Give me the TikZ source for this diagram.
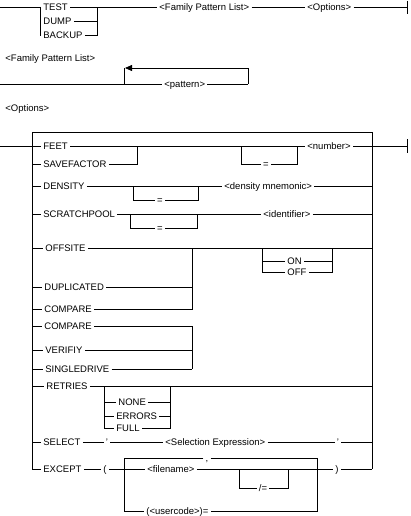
\documentclass[tikz,border=0pt]{standalone}
\usepackage{fontspec}
\setmainfont{Liberation Sans}
\usetikzlibrary{arrows.meta}
\begin{document}
\begin{tikzpicture}[x=1pt,y=-1pt,line width=0.8pt,
  t/.style={anchor=west,inner xsep=2pt,inner ysep=0pt,text height=7pt,text depth=0pt,font=\fontsize{9.5}{11}\selectfont},
  tc/.style={t,anchor=center},
  endbar/.style={line width=0.9pt}]
\useasboundingbox (0,0) rectangle (410,516);
% ---------- top rule
\node[t] (test) at (41,7) {TEST};
\node[t] (dump) at (41,21) {DUMP};
\node[t] (backup) at (41,35) {BACKUP};
\node[t] (fpl) at (157,7) {<Family Pattern List>};
\node[t] (opt) at (305,7) {<Options>};
\coordinate (s0) at (0,7);
\coordinate (e0) at (407,7);
\draw (s0) -- (test.west);
\draw (40,7) -- (40,35);
\draw (40,21) -- (dump.west);
\draw (40,35) -- (backup.west);
\draw (test.east) -- (fpl.west);
\draw (dump.east) -- (97,21);
\draw (backup.east) -- (97,35) -- (97,7);
\draw (fpl.east) -- (opt.west);
\draw (opt.east) -- (e0);
\draw[endbar] (407,1) -- (407,14);
% ---------- family pattern list
\node[t,inner xsep=0pt] (lbl1) at (5,58) {<Family Pattern List>};
\node[t] (pat) at (162,84) {<pattern>};
\coordinate (s1) at (0,84);
\coordinate (p1) at (124,84);
\coordinate (p2) at (248,84);
\draw (s1) -- (pat.west);
\draw (pat.east) -- (p2);
\draw[-{Triangle[length=7pt,width=6pt]}] (p2) -- (248,68) -- (125,68);
\draw (124,68) -- (p1);
% ---------- options
\node[t,inner xsep=0pt] (lbl2) at (5,108) {<Options>};
\coordinate (s2) at (0,146);
\draw (32,469) -- (32,132) -- (372,132) -- (372,469);
% FEET / SAVEFACTOR
\node[t] (feet) at (41,146) {FEET};
\node[t] (save) at (41,164) {SAVEFACTOR};
\node[tc] (eqa) at (266,164) {=};
\node[t] (num) at (305,146) {<number>};
\draw (s2) -- (feet.west);
\draw (feet.east) -- (num.west);
\draw (32,164) -- (save.west);
\draw (save.east) -- (137,164) -- (137,146);
\draw (241,146) -- (241,164) -- (eqa.west);
\draw (eqa.east) -- (297,164) -- (297,146);
\draw (num.east) -- (407,146);
\draw[endbar] (407,139) -- (407,153);
% DENSITY
\node[t] (dens) at (41,186) {DENSITY};
\node[t] (dm) at (222,186) {<density mnemonic>};
\node[tc] (eqb) at (160,200) {=};
\draw (32,186) -- (dens.west);
\draw (dens.east) -- (dm.west);
\draw (dm.east) -- (372,186);
\draw (133,186) -- (133,200) -- (eqb.west);
\draw (eqb.east) -- (198,200) -- (198,186);
% SCRATCHPOOL
\node[t] (scr) at (41,214) {SCRATCHPOOL};
\node[t] (ident) at (261,214) {<identifier>};
\node[tc] (eqc) at (160,228) {=};
\draw (32,214) -- (scr.west);
\draw (scr.east) -- (ident.west);
\draw (ident.east) -- (372,214);
\draw (130,214) -- (130,228) -- (eqc.west);
\draw (eqc.east) -- (197,228) -- (197,214);
% OFFSITE group
\node[t] (off) at (43,248) {OFFSITE};
\node[t] (on) at (285,261) {ON};
\node[t] (offv) at (285,272) {OFF};
\node[t] (dup) at (42,287) {DUPLICATED};
\node[t] (cmp1) at (42,309) {COMPARE};
\draw (32,248) -- (off.west);
\draw (off.east) -- (372,248);
\draw (262,248) -- (262,272);
\draw (262,261) -- (on.west);
\draw (262,272) -- (offv.west);
\draw (on.east) -- (332,261);
\draw (offv.east) -- (332,272) -- (332,248);
\draw (32,287) -- (dup.west);
\draw (32,309) -- (cmp1.west);
\draw (dup.east) -- (192,287);
\draw (cmp1.east) -- (192,309) -- (192,248);
% COMPARE / VERIFIY / SINGLEDRIVE
\node[t] (cmp2) at (42,326) {COMPARE};
\node[t] (ver) at (43,350) {VERIFIY};
\node[t] (sgl) at (43,369) {SINGLEDRIVE};
\draw (32,326) -- (cmp2.west);
\draw (32,350) -- (ver.west);
\draw (32,369) -- (sgl.west);
\draw (cmp2.east) -- (192,326) -- (192,369);
\draw (ver.east) -- (192,350);
\draw (sgl.east) -- (192,369);
% RETRIES
\node[t] (ret) at (44,386) {RETRIES};
\node[t] (none) at (116,402) {NONE};
\node[t] (err) at (114,416) {ERRORS};
\node[t] (full) at (114,428) {FULL};
\draw (32,386) -- (ret.west);
\draw (ret.east) -- (372,386);
\draw (104,386) -- (104,428);
\draw (104,402) -- (none.west);
\draw (104,416) -- (err.west);
\draw (104,428) -- (full.west);
\draw (none.east) -- (170,402);
\draw (err.east) -- (170,416);
\draw (full.east) -- (170,428) -- (170,386);
% SELECT
\node[t] (sel) at (41,442) {SELECT};
\node[tc] (q1) at (107,442) {\char39};
\node[t] (expr) at (163,442) {<Selection Expression>};
\node[tc] (q2) at (338,442) {\char39};
\draw (32,442) -- (sel.west);
\draw (sel.east) -- (q1.west);
\draw (q1.east) -- (expr.west);
\draw (expr.east) -- (q2.west);
\draw (q2.east) -- (372,442);
% EXCEPT
\node[t] (exc) at (41,469) {EXCEPT};
\node[tc] (lp) at (105,469) {(};
\node[t] (fn) at (145,469) {<filename>};
\node[tc] (rp) at (337,469) {)};
\node[tc] (comma) at (207,458) {,};
\node[tc] (sl) at (263,488) {/=};
\node[t] (uc) at (144,511) {(<usercode>)=};
\draw (32,469) -- (exc.west);
\draw (exc.east) -- (lp.west);
\draw (lp.east) -- (fn.west);
\draw (fn.east) -- (rp.west);
\draw (rp.east) -- (372,469);
\draw (comma.west) -- (124,458) -- (124,511) -- (uc.west);
\draw (comma.east) -- (317,458) -- (317,511) -- (uc.east);
\draw (239,469) -- (239,488) -- (sl.west);
\draw (sl.east) -- (288,488) -- (288,469);
\end{tikzpicture}
\end{document}
